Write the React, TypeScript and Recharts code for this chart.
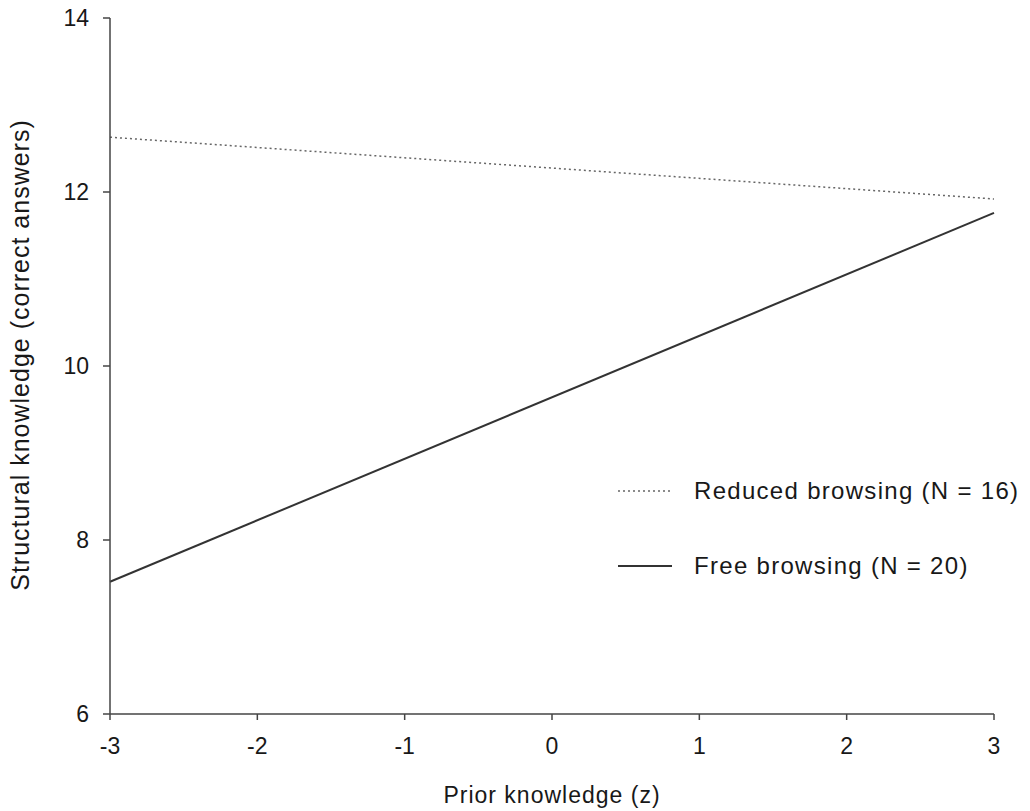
import React from 'react';
import { LineChart, Line, XAxis, YAxis, Legend } from 'recharts';

const priorKnowledge = [-3, 3];
const reducedBrowsing = [12.63, 11.92];
const freeBrowsing = [7.52, 11.76];
const xTicks = [-3, -2, -1, 0, 1, 2, 3];
const yTicks = [6, 8, 10, 12, 14];

const seriesKeys = ['reduced', 'free'];
const seriesNames: Record<string, string> = {
  reduced: 'Reduced browsing (N = 16)',
  free: 'Free browsing (N = 20)',
};

const data = priorKnowledge.map((x, i) => ({
  x,
  reduced: reducedBrowsing[i],
  free: freeBrowsing[i],
}));

const font = '"Liberation Sans", Arial, sans-serif';
const ink = '#181818';

// legend drawn in the fixed order of the reference, not sorted by name
const LegendBox = ({ payload }: any) => {
  const items = seriesKeys
    .map(k => (payload || []).find((p: any) => p.dataKey === k))
    .filter(Boolean);
  return (
    <div style={{ fontFamily: font, fontSize: 24, letterSpacing: 1.3, color: ink }}>
      {items.map((p: any, i: number) => (
        <div key={i} style={{ display: 'flex', alignItems: 'center', height: 38, marginBottom: i === 0 ? 37 : 0 }}>
          <svg width={76} height={10}>
            <line
              x1={0} y1={5} x2={54} y2={5}
              stroke={p.dataKey === 'reduced' ? '#666' : '#333'}
              strokeWidth={p.dataKey === 'reduced' ? 1.5 : 2}
              strokeDasharray={p.dataKey === 'reduced' ? '2 3' : undefined}
            />
          </svg>
          <span>{p.value}</span>
        </div>
      ))}
    </div>
  );
};

const YLabel = () => (
  <text
    x={0} y={0}
    transform="translate(29, 355) rotate(-90)"
    textAnchor="middle"
    fontFamily={font}
    fontSize={25}
    fill={ink}
    style={{ letterSpacing: 1 }}
  >
    Structural knowledge (correct answers)
  </text>
);

export default function App() {
  return (
    <div style={{ position: 'absolute', left: 0, top: 0, background: '#fff' }}>
      <LineChart width={1030} height={811} data={data} margin={{ top: 18, right: 36, left: 0, bottom: 0 }}>
        <XAxis
          dataKey="x"
          type="number"
          domain={[-3, 3]}
          ticks={xTicks}
          height={97}
          stroke="#444"
          strokeWidth={1.5}
          tickSize={6}
          tickMargin={18}
          tick={{ fontFamily: font, fontSize: 23, fill: ink }}
          label={{ value: 'Prior knowledge (z)', position: 'insideBottom', offset: 8, style: { fontFamily: font, fontSize: 23, fill: ink, letterSpacing: 1 } }}
        />
        <YAxis
          type="number"
          domain={[6, 14]}
          ticks={yTicks}
          width={110}
          stroke="#444"
          strokeWidth={1.5}
          tickSize={7}
          tickMargin={14}
          tick={{ fontFamily: font, fontSize: 23, fill: ink }}
          label={<YLabel />}
        />
        <Legend
          layout="vertical"
          verticalAlign="middle"
          align="center"
          content={<LegendBox />}
          wrapperStyle={{ left: 618, top: 472, width: 412 }}
        />
        <Line
          dataKey="reduced"
          name={seriesNames.reduced}
          stroke="#666"
          strokeWidth={1.5}
          strokeDasharray="2 3"
          dot={false}
          isAnimationActive={false}
        />
        <Line
          dataKey="free"
          name={seriesNames.free}
          stroke="#333"
          strokeWidth={2}
          dot={false}
          isAnimationActive={false}
        />
      </LineChart>
    </div>
  );
}
